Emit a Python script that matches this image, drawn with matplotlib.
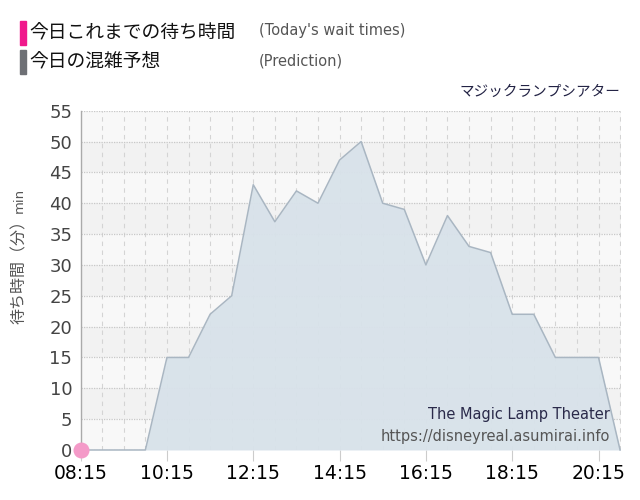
import numpy as np
import matplotlib
matplotlib.use('Agg')
from matplotlib import pyplot as plt
from matplotlib.patches import Rectangle

# predicted crowding (every 30 minutes)
times = ['08:15', '08:45', '09:15', '09:45', '10:15', '10:45', '11:15', '11:45',
         '12:15', '12:45', '13:15', '13:45', '14:15', '14:45', '15:15', '15:45',
         '16:15', '16:45', '17:15', '17:45', '18:15', '18:45', '19:15', '19:45',
         '20:15', '20:45']
prediction = [0, 0, 0, 0, 15, 15, 22, 25, 43, 37, 42, 40, 47, 50, 40, 39,
               30, 38, 33, 32, 22, 22, 15, 15, 15, 0]

# today's actual wait times
actual_times = ['08:15']
actual = [0]

tick_labels = ['08:15', '10:15', '12:15', '14:15', '16:15', '18:15', '20:15']
y_ticks = list(range(0, 56, 5))


def to_min(t):
	h, m = t.split(':')
	return int(h) * 60 + int(m)


x = np.array([to_min(t) for t in times])
xa = np.array([to_min(t) for t in actual_times])
jp = ['Noto Sans CJK JP', 'DejaVu Sans']

fig = plt.figure(figsize=(6.4, 5.0), dpi=100)
ax = fig.add_axes([0.126, 0.1, 0.844, 0.6786])

x0, x1 = x[0], x[-1]
ax.set_xlim(x0, x1 + 1)
ax.set_ylim(0, 55)

# alternating background bands
for i, lo in enumerate(y_ticks[:-1]):
	ax.add_patch(Rectangle((x0, lo), x1 + 1 - x0, 5,
	                       facecolor='#f2f2f2' if i % 2 else '#f8f8f8',
	                       edgecolor='none', zorder=0))

for t in range(x0 + 30, x1 + 1, 30):
	ax.axvline(t, color='#d4d4d4', lw=0.8, ls=(0, (4, 4)), zorder=1)
for v in y_ticks:
	ax.axhline(v, color='#c8c8c8', lw=0.9, ls=(0, (1, 1)), zorder=1)

ax.fill_between(x, prediction, 0, color='#d8e2ea', alpha=0.95, zorder=2, lw=0)
ax.plot(x, prediction, color='#a9b6c2', lw=1.1, zorder=3, clip_on=False)
ax.scatter(xa, actual, s=110, color='#f49ac8', zorder=5, clip_on=False)

ax.set_xticks([to_min(t) for t in tick_labels])
ax.set_xticklabels(tick_labels, fontsize=13.5, color='#000000')
ax.set_yticks(y_ticks)
ax.set_yticklabels([str(v) for v in y_ticks], fontsize=13, color='#444444')
ax.tick_params(axis='x', length=8, color='#cccccc', pad=2)
ax.tick_params(axis='y', length=0, pad=6)

for s in ['top', 'right', 'bottom']:
	ax.spines[s].set_visible(False)
ax.spines['left'].set_color('#aaaaaa')
ax.spines['left'].set_linewidth(1)

fig.text(0.03, 0.465, '待ち時間（分）', rotation=90, ha='center', va='center',
         fontsize=11.5, color='#555555', family=jp)
fig.text(0.03, 0.6, 'min', rotation=90, ha='center', va='center',
         fontsize=9.5, color='#555555')

# legend at top
fig.patches.append(Rectangle((20 / 640, 1 - 45 / 500), 6 / 640, 24 / 500,
                             transform=fig.transFigure, color='#f0198c'))
fig.patches.append(Rectangle((20 / 640, 1 - 74 / 500), 6 / 640, 24 / 500,
                             transform=fig.transFigure, color='#6e7075'))
fig.text(29 / 640, 1 - 33 / 500, '今日これまでの待ち時間', fontsize=13.5, va='center',
         color='#111111', family=jp)
fig.text(29 / 640, 1 - 62 / 500, '今日の混雑予想', fontsize=13.5, va='center',
         color='#111111', family=jp)
fig.text(259 / 640, 1 - 31 / 500, "(Today's wait times)", fontsize=10.5,
         va='center', color='#555555')
fig.text(259 / 640, 1 - 61 / 500, '(Prediction)', fontsize=10.5,
         va='center', color='#555555')

fig.text(620 / 640, 1 - 92 / 500, 'マジックランプシアター', fontsize=10.5,
         ha='right', va='center', color='#222244', family=jp)

ax.text(0.98, 0.105, 'The Magic Lamp Theater', transform=ax.transAxes,
        ha='right', va='center', fontsize=10.5, color='#2a2a4a', zorder=6)
ax.text(0.98, 0.04, 'https://disneyreal.asumirai.info', transform=ax.transAxes,
        ha='right', va='center', fontsize=10.5, color='#555555', zorder=6)

fig.savefig('out.png', dpi=100)
